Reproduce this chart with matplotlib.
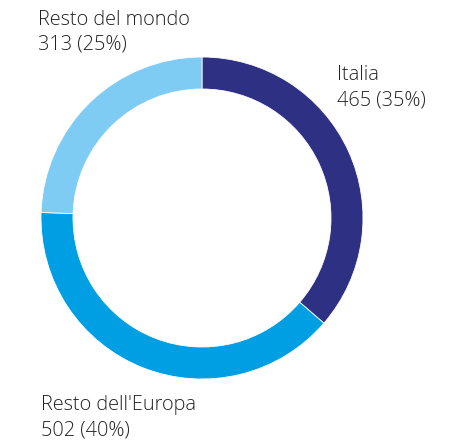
import numpy as np
import matplotlib.pyplot as plt

labels = ["Italia", "Resto dell'Europa", "Resto del mondo"]
values = [465, 502, 313]
pct_labels = ["35%", "40%", "25%"]
colors = ["#2e3084", "#009fe3", "#7ecbf3"]

W, H = 452, 444
fig = plt.figure(figsize=(W / 100, H / 100), dpi=100)
ax = fig.add_axes([0, 0, 1, 1])

# centre at pixel (202, 218), radius 161 px
cx, cy, r = 202, 218, 161
ax.pie(values, colors=colors, startangle=90, counterclock=False,
       radius=1, wedgeprops=dict(width=32 / r, linewidth=0.6, edgecolor="white"))
ax.set_xlim(-cx / r, (W - cx) / r)
ax.set_ylim(-(H - cy) / r, cy / r)
ax.set_aspect("auto")
ax.axis("off")

txt = dict(fontsize=14.3, color="#222222", family=["Open Sans", "DejaVu Sans"],
           fontweight="light", va="baseline", ha="left")

# label anchor positions in pixels (left, baseline of first line)
pos = {0: (337, 80), 1: (41, 410), 2: (38, 25)}
for i, lab in enumerate(labels):
    x, y = pos[i]
    fig.text(x / W, 1 - y / H, lab, **txt)
    fig.text(x / W, 1 - (y + 25) / H, "%d (%s)" % (values[i], pct_labels[i]), **txt)

fig.savefig("out.png", dpi=100)
